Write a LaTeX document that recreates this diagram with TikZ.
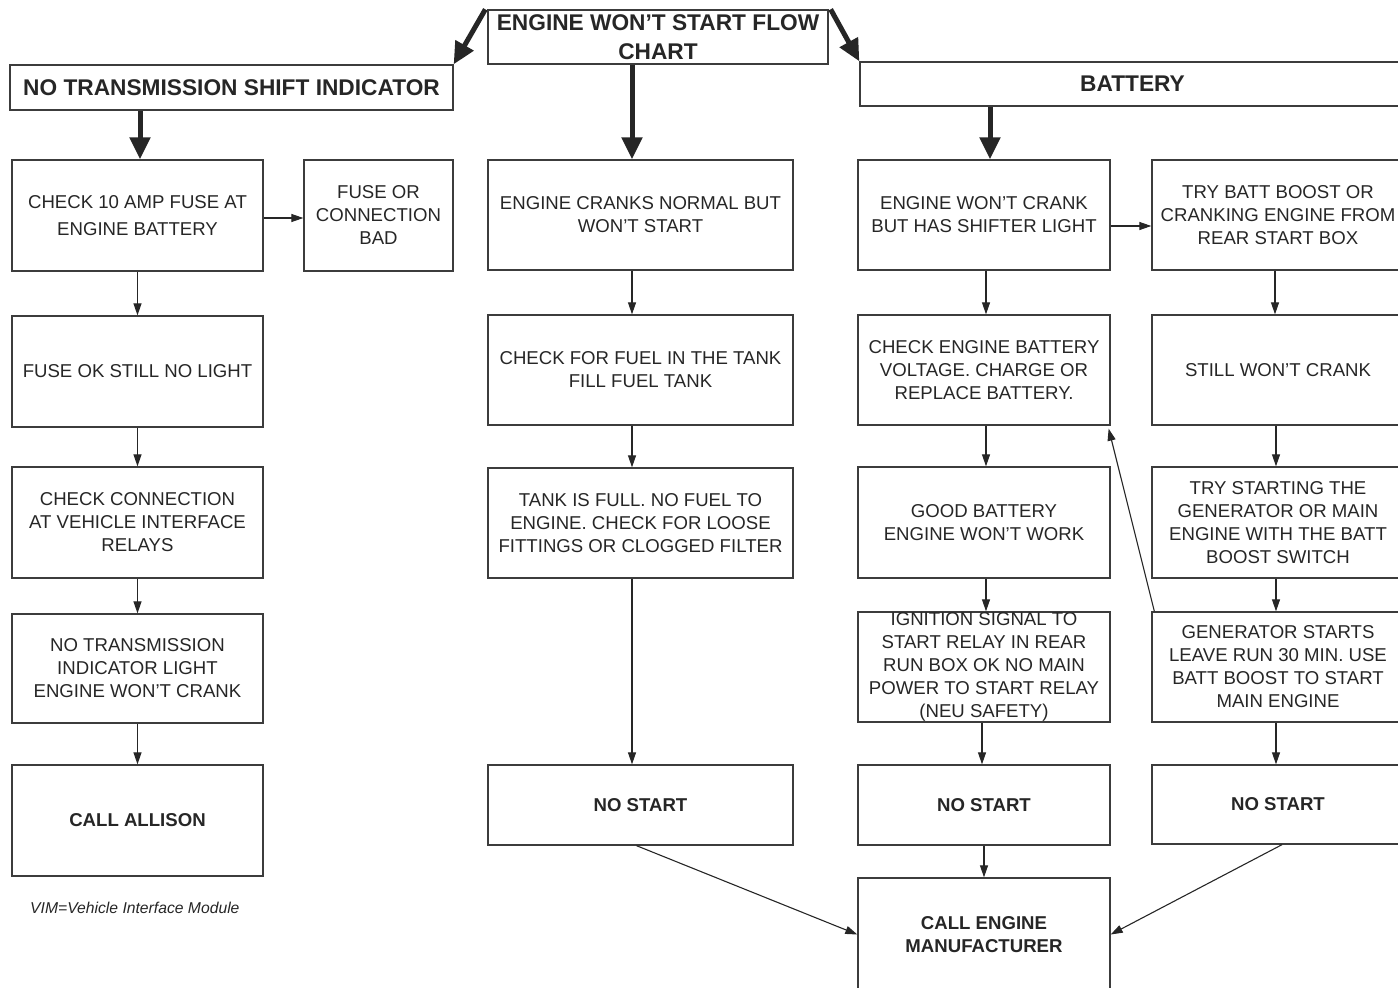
\documentclass[tikz,border=0pt]{standalone}
\usepackage{fontspec}
\setmainfont{Liberation Sans}
\usetikzlibrary{arrows.meta,calc}
\definecolor{ink}{HTML}{262626}
\definecolor{edge}{HTML}{3C3C3C}
\begin{document}
\begin{tikzpicture}[x=1pt,y=-1pt,
  box/.style={draw=edge,line width=1.3pt,rectangle,inner sep=0pt,align=center,text=ink,
    font=\fontsize{18.6}{23}\selectfont},
  boldbox/.style={box,font=\fontsize{18.6}{23}\selectfont\bfseries},
  headbox/.style={box,font=\fontsize{22.7}{29}\selectfont\bfseries},
  thin/.style={draw=ink,line width=1.1pt,-{Triangle[length=12pt,width=8pt]}},
  thick/.style={draw=ink,line width=5pt,-{Triangle[length=22pt,width=20pt]}},
  note/.style={text=ink,font=\fontsize{15.7}{19}\selectfont\itshape,inner sep=0pt}
]
\useasboundingbox (0,0) rectangle (1398,988);
% headers
\node[headbox,minimum width=340,minimum height=54] (title) at (658,37) {ENGINE WON’T START FLOW\\CHART};
\node[headbox,minimum width=443,minimum height=45] (lh) at (231.5,87.5) {NO TRANSMISSION SHIFT INDICATOR};
\node[headbox,minimum width=545,minimum height=44] (rh) at (1132.5,84) {BATTERY};
% column 1
\node[box,minimum width=251,minimum height=111] (b1) at (137.5,215.5) {CHECK 10 AMP FUSE AT\\[4pt]ENGINE BATTERY};
\node[box,minimum width=149,minimum height=111] (fuse) at (378.5,215.5) {FUSE OR\\CONNECTION\\BAD};
\node[box,minimum width=251,minimum height=111] (b2) at (137.5,371.5) {FUSE OK STILL NO LIGHT};
\node[box,minimum width=251,minimum height=111] (b3) at (137.5,522.5) {CHECK CONNECTION\\AT VEHICLE INTERFACE\\RELAYS};
\node[box,minimum width=251,minimum height=109] (b4) at (137.5,668.5) {NO TRANSMISSION\\INDICATOR LIGHT\\ENGINE WON’T CRANK};
\node[boldbox,minimum width=251,minimum height=111] (b5) at (137.5,820.5) {CALL ALLISON};
\node[note,anchor=west] (vim) at (30,908) {VIM=Vehicle Interface Module};
% column 2
\node[box,minimum width=305,minimum height=110] (c1) at (640.5,215) {ENGINE CRANKS NORMAL BUT\\WON’T START};
\node[box,minimum width=305,minimum height=110] (c2) at (640.5,370) {CHECK FOR FUEL IN THE TANK\\FILL FUEL TANK};
\node[box,minimum width=305,minimum height=110] (c3) at (640.5,523) {TANK IS FULL. NO FUEL TO\\ENGINE. CHECK FOR LOOSE\\FITTINGS OR CLOGGED FILTER};
\node[boldbox,minimum width=305,minimum height=80] (c4) at (640.5,805) {NO START};
% column 3
\node[box,minimum width=252,minimum height=110] (d1) at (984,215) {ENGINE WON’T CRANK\\BUT HAS SHIFTER LIGHT};
\node[box,minimum width=252,minimum height=110] (d2) at (984,370) {CHECK ENGINE BATTERY\\VOLTAGE. CHARGE OR\\REPLACE BATTERY.};
\node[box,minimum width=252,minimum height=111] (d3) at (984,522.5) {GOOD BATTERY\\ENGINE WON’T WORK};
\node[box,minimum width=252,minimum height=110] (d4) at (984,667) {IGNITION SIGNAL TO\\START RELAY IN REAR\\RUN BOX OK NO MAIN\\POWER TO START RELAY\\(NEU SAFETY)};
\node[boldbox,minimum width=252,minimum height=80] (d5) at (984,805) {NO START};
\node[boldbox,minimum width=252,minimum height=113] (e) at (984,934.5) {CALL ENGINE\\MANUFACTURER};
% column 4
\node[box,minimum width=252,minimum height=110] (f1) at (1278,215) {TRY BATT BOOST OR\\CRANKING ENGINE FROM\\REAR START BOX};
\node[box,minimum width=252,minimum height=110] (f2) at (1278,370) {STILL WON’T CRANK};
\node[box,minimum width=252,minimum height=111] (f3) at (1278,522.5) {TRY STARTING THE\\GENERATOR OR MAIN\\ENGINE WITH THE BATT\\BOOST SWITCH};
\node[box,minimum width=252,minimum height=110] (f4) at (1278,667) {GENERATOR STARTS\\LEAVE RUN 30 MIN. USE\\BATT BOOST TO START\\MAIN ENGINE};
\node[boldbox,minimum width=252,minimum height=79] (f5) at (1278,804.5) {NO START};
% thick arrows
\draw[thick] ([xshift=-2pt]title.north west) -- (lh.north east);
\draw[thick] ([xshift=2pt]title.north east) -- (rh.north west);
\draw[thick] ([xshift=2.5pt]b1.north |- lh.south) -- ([xshift=2.5pt]b1.north);
\draw[thick] ([xshift=-8.5pt]c1.north |- title.south) -- ([xshift=-8.5pt]c1.north);
\draw[thick] ([xshift=6pt]d1.north |- rh.south) -- ([xshift=6pt]d1.north);
% thin arrows column 1
\draw[thin] ([yshift=-2.5pt]b1.east) -- ([yshift=-2.5pt]fuse.west);
\draw[thin] (b1) -- (b2);
\draw[thin] (b2) -- (b3);
\draw[thin] (b3) -- (b4);
\draw[thin] (b4) -- (b5);
% column 2
\draw[thin] ([xshift=-8.5pt]c1.south) -- ([xshift=-8.5pt]c2.north);
\draw[thin] ([xshift=-8.5pt]c2.south) -- ([xshift=-8.5pt]c3.north);
\draw[thin] ([xshift=-8.5pt]c3.south) -- ([xshift=-8.5pt]c4.north);
% column 3
\draw[thin] ([xshift=2pt]d1.south) -- ([xshift=2pt]d2.north);
\draw[thin] ([xshift=2pt]d2.south) -- ([xshift=2pt]d3.north);
\draw[thin] ([xshift=2pt]d3.south) -- ([xshift=2pt]d4.north);
\draw[thin] ([xshift=-2pt]d4.south) -- ([xshift=-2pt]d5.north);
\draw[thin] (d5) -- (e);
\draw[thin] ([yshift=-11pt]d1.east) -- ([yshift=-11pt]f1.west);
% column 4
\draw[thin] ([xshift=-3pt]f1.south) -- ([xshift=-3pt]f2.north);
\draw[thin] ([xshift=-2pt]f2.south) -- ([xshift=-2pt]f3.north);
\draw[thin] ([xshift=-2pt]f3.south) -- ([xshift=-2pt]f4.north);
\draw[thin] ([xshift=-2pt]f4.south) -- ([xshift=-2pt]f5.north);
\draw[thin] ([xshift=3pt]f4.north west) -- ([xshift=-2pt,yshift=-3pt]d2.south east);
% to manufacturer
\draw[thin] ([xshift=-4pt]c4.south) -- (e.west);
\draw[thin] ([xshift=4pt]f5.south) -- (e.east);
\end{tikzpicture}
\end{document}
